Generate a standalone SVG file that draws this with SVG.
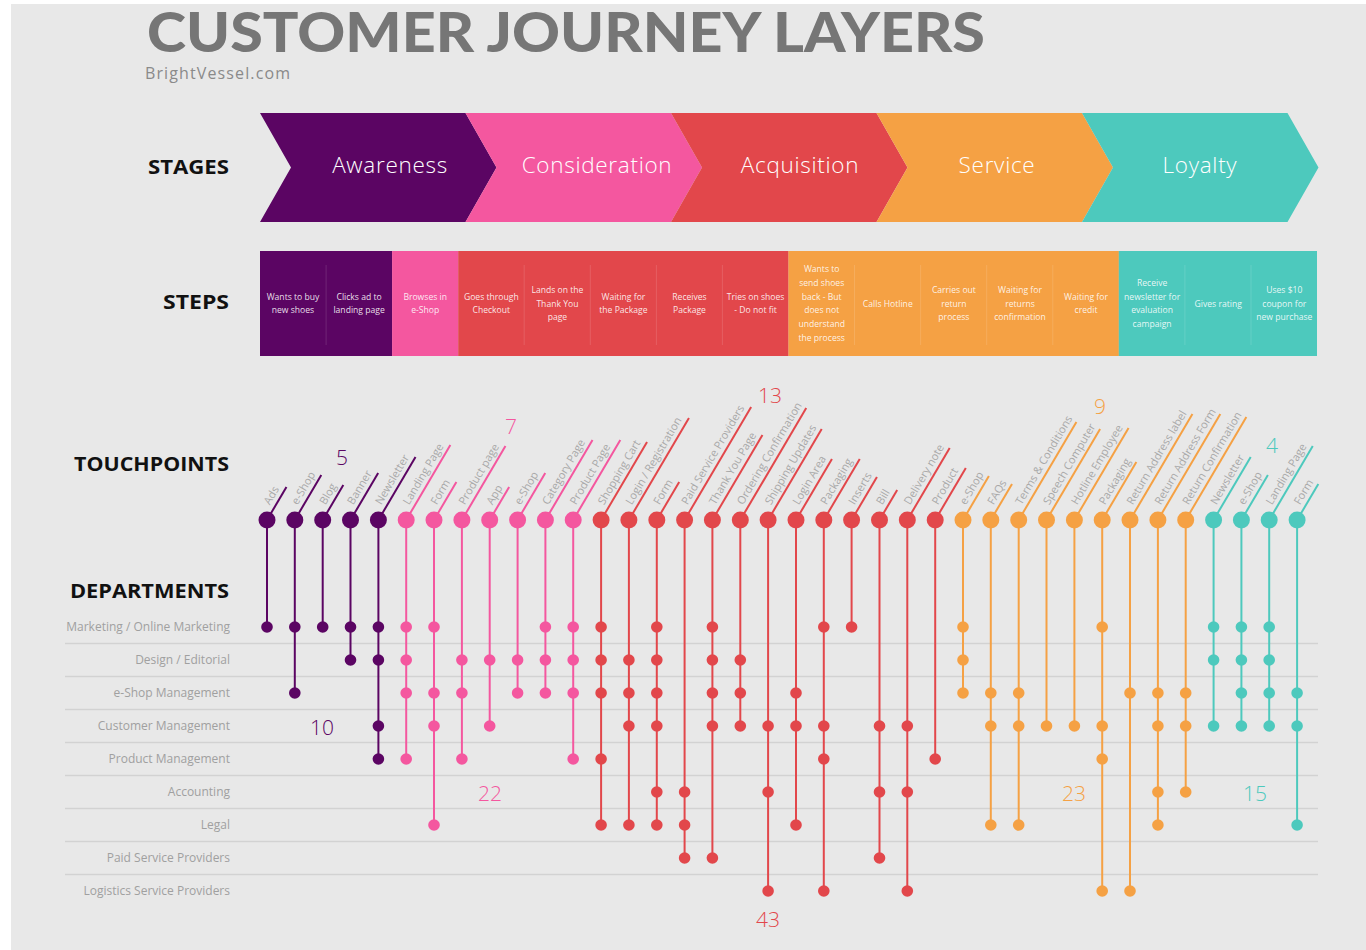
<svg xmlns="http://www.w3.org/2000/svg" width="1366" height="950" viewBox="0 0 1366 950">
<style>
.bg{fill:#e8e8e8}
.title{font-family:"Lato","Open Sans",sans-serif;font-weight:900;font-size:55px;fill:#767676}
.sub{font-family:"Open Sans",sans-serif;font-size:16px;fill:#8a8a8a}
.sec{font-family:"Open Sans",sans-serif;font-weight:700;font-size:20px;fill:#111}
.stg{font-family:"Open Sans",sans-serif;font-weight:300;font-size:22.5px;letter-spacing:0.7px;fill:#fff;text-anchor:middle}
.stp{font-family:"Open Sans",sans-serif;font-size:8.6px;fill:#fff;fill-opacity:.88;text-anchor:middle}
.sep{stroke:#fff;stroke-opacity:.13;stroke-width:1}
.dep{font-family:"Open Sans",sans-serif;font-size:12px;fill:#a0a0a0;text-anchor:end}
.row{stroke:#d2d2d2;stroke-width:1.5}
.tl{font-family:"Open Sans",sans-serif;font-size:11px;fill:#a8a8a8}
.num{font-family:"Open Sans",sans-serif;font-weight:300;font-size:21px;text-anchor:middle}
.fP{fill:#5b0563}.fK{fill:#f4579f}.fR{fill:#e2474b}.fO{fill:#f5a144}.fT{fill:#4dc9bd}
.sP{stroke:#5b0563}.sK{stroke:#f4579f}.sR{stroke:#e2474b}.sO{stroke:#f5a144}.sT{stroke:#4dc9bd}
line.v,line.d{stroke-width:2}
</style>
<rect x="0" y="0" width="1366" height="950" fill="#fff"/>
<rect class="bg" x="11" y="4" width="1355" height="946"/>

<g id="header">
<text class="title" x="147" y="52" textLength="838" lengthAdjust="spacingAndGlyphs">CUSTOMER JOURNEY LAYERS</text>
<text class="sub" x="145" y="79" textLength="145" lengthAdjust="spacing">BrightVessel.com</text>
</g>

<g id="section-labels">
<text class="sec" x="148" y="174" textLength="81" lengthAdjust="spacingAndGlyphs">STAGES</text>
<text class="sec" x="163" y="309" textLength="66" lengthAdjust="spacingAndGlyphs">STEPS</text>
<text class="sec" x="74" y="471" textLength="155" lengthAdjust="spacingAndGlyphs">TOUCHPOINTS</text>
<text class="sec" x="70" y="598" textLength="159" lengthAdjust="spacingAndGlyphs">DEPARTMENTS</text>
</g>

<g id="stages">
<g id="stage-awareness"><polygon class="fP" points="260,113 465.5,113 496.5,167.5 465.5,222 260,222 291,167.5"/><text class="stg" x="390" y="173">Awareness</text></g>
<g id="stage-consideration"><polygon class="fK" points="465.5,113 671,113 702,167.5 671,222 465.5,222 496.5,167.5"/><text class="stg" x="597" y="173">Consideration</text></g>
<g id="stage-acquisition"><polygon class="fR" points="671,113 876.5,113 907.5,167.5 876.5,222 671,222 702,167.5"/><text class="stg" x="800" y="173">Acquisition</text></g>
<g id="stage-service"><polygon class="fO" points="876.5,113 1082,113 1113,167.5 1082,222 876.5,222 907.5,167.5"/><text class="stg" x="997" y="173">Service</text></g>
<g id="stage-loyalty"><polygon class="fT" points="1082,113 1287.5,113 1318.5,167.5 1287.5,222 1082,222 1113,167.5"/><text class="stg" x="1200" y="173">Loyalty</text></g>
</g>

<g id="steps">
<rect class="fP" x="260" y="251" width="132.2" height="105"/>
<rect class="fK" x="392.1" y="251" width="66.2" height="105"/>
<rect class="fR" x="458.2" y="251" width="330.4" height="105"/>
<rect class="fO" x="788.5" y="251" width="330.4" height="105"/>
<rect class="fT" x="1118.8" y="251" width="198.2" height="105"/>
<g class="sep">
<line x1="326.1" y1="265" x2="326.1" y2="345"/>
<line x1="524.2" y1="265" x2="524.2" y2="345"/>
<line x1="590.3" y1="265" x2="590.3" y2="345"/>
<line x1="656.4" y1="265" x2="656.4" y2="345"/>
<line x1="722.4" y1="265" x2="722.4" y2="345"/>
<line x1="854.5" y1="265" x2="854.5" y2="345"/>
<line x1="920.6" y1="265" x2="920.6" y2="345"/>
<line x1="986.7" y1="265" x2="986.7" y2="345"/>
<line x1="1052.8" y1="265" x2="1052.8" y2="345"/>
<line x1="1184.9" y1="265" x2="1184.9" y2="345"/>
<line x1="1251" y1="265" x2="1251" y2="345"/>
</g>
<g id="step-1"><text class="stp" x="293" y="299.6">Wants to buy</text><text class="stp" x="293" y="313.4">new shoes</text></g>
<g id="step-2"><text class="stp" x="359.1" y="299.6">Clicks ad to</text><text class="stp" x="359.1" y="313.4">landing page</text></g>
<g id="step-3"><text class="stp" x="425.2" y="299.6">Browses in</text><text class="stp" x="425.2" y="313.4">e-Shop</text></g>
<g id="step-4"><text class="stp" x="491.3" y="299.6">Goes through</text><text class="stp" x="491.3" y="313.4">Checkout</text></g>
<g id="step-5"><text class="stp" x="557.4" y="292.7">Lands on the</text><text class="stp" x="557.4" y="306.5">Thank You</text><text class="stp" x="557.4" y="320.3">page</text></g>
<g id="step-6"><text class="stp" x="623.4" y="299.6">Waiting for</text><text class="stp" x="623.4" y="313.4">the Package</text></g>
<g id="step-7"><text class="stp" x="689.5" y="299.6">Receives</text><text class="stp" x="689.5" y="313.4">Package</text></g>
<g id="step-8"><text class="stp" x="755.6" y="299.6">Tries on shoes</text><text class="stp" x="755.6" y="313.4">- Do not fit</text></g>
<g id="step-9"><text class="stp" x="821.7" y="272">Wants to</text><text class="stp" x="821.7" y="285.8">send shoes</text><text class="stp" x="821.7" y="299.6">back - But</text><text class="stp" x="821.7" y="313.4">does not</text><text class="stp" x="821.7" y="327.2">understand</text><text class="stp" x="821.7" y="341">the process</text></g>
<g id="step-10"><text class="stp" x="887.8" y="306.5">Calls Hotline</text></g>
<g id="step-11"><text class="stp" x="953.9" y="292.7">Carries out</text><text class="stp" x="953.9" y="306.5">return</text><text class="stp" x="953.9" y="320.3">process</text></g>
<g id="step-12"><text class="stp" x="1020" y="292.7">Waiting for</text><text class="stp" x="1020" y="306.5">returns</text><text class="stp" x="1020" y="320.3">confirmation</text></g>
<g id="step-13"><text class="stp" x="1086" y="299.6">Waiting for</text><text class="stp" x="1086" y="313.4">credit</text></g>
<g id="step-14"><text class="stp" x="1152.1" y="285.8">Receive</text><text class="stp" x="1152.1" y="299.6">newsletter for</text><text class="stp" x="1152.1" y="313.4">evaluation</text><text class="stp" x="1152.1" y="327.2">campaign</text></g>
<g id="step-15"><text class="stp" x="1218.2" y="306.5">Gives rating</text></g>
<g id="step-16"><text class="stp" x="1284.3" y="292.7">Uses $10</text><text class="stp" x="1284.3" y="306.5">coupon for</text><text class="stp" x="1284.3" y="320.3">new purchase</text></g>
</g>

<g id="departments">
<g class="row">
<line x1="65" y1="643.5" x2="1318" y2="643.5"/>
<line x1="65" y1="676.5" x2="1318" y2="676.5"/>
<line x1="65" y1="709.5" x2="1318" y2="709.5"/>
<line x1="65" y1="742.5" x2="1318" y2="742.5"/>
<line x1="65" y1="775.5" x2="1318" y2="775.5"/>
<line x1="65" y1="808.5" x2="1318" y2="808.5"/>
<line x1="65" y1="841.5" x2="1318" y2="841.5"/>
<line x1="65" y1="874.5" x2="1318" y2="874.5"/>
</g>
<text class="dep" x="230" y="631">Marketing / Online Marketing</text>
<text class="dep" x="230" y="664">Design / Editorial</text>
<text class="dep" x="230" y="697">e-Shop Management</text>
<text class="dep" x="230" y="730">Customer Management</text>
<text class="dep" x="230" y="763">Product Management</text>
<text class="dep" x="230" y="796">Accounting</text>
<text class="dep" x="230" y="829">Legal</text>
<text class="dep" x="230" y="862">Paid Service Providers</text>
<text class="dep" x="230" y="895">Logistics Service Providers</text>
</g>

<g id="connectors">
<line class="v sP" x1="267" y1="520" x2="267" y2="627"/>
<line class="v sP" x1="294.8" y1="520" x2="294.8" y2="693"/>
<line class="v sP" x1="322.7" y1="520" x2="322.7" y2="627"/>
<line class="v sP" x1="350.5" y1="520" x2="350.5" y2="660"/>
<line class="v sP" x1="378.4" y1="520" x2="378.4" y2="759"/>
<line class="v sK" x1="406.2" y1="520" x2="406.2" y2="759"/>
<line class="v sK" x1="434" y1="520" x2="434" y2="825"/>
<line class="v sK" x1="461.9" y1="520" x2="461.9" y2="759"/>
<line class="v sK" x1="489.7" y1="520" x2="489.7" y2="726"/>
<line class="v sK" x1="517.6" y1="520" x2="517.6" y2="693"/>
<line class="v sK" x1="545.4" y1="520" x2="545.4" y2="693"/>
<line class="v sK" x1="573.2" y1="520" x2="573.2" y2="759"/>
<line class="v sR" x1="601.1" y1="520" x2="601.1" y2="825"/>
<line class="v sR" x1="628.9" y1="520" x2="628.9" y2="825"/>
<line class="v sR" x1="656.8" y1="520" x2="656.8" y2="825"/>
<line class="v sR" x1="684.6" y1="520" x2="684.6" y2="858"/>
<line class="v sR" x1="712.4" y1="520" x2="712.4" y2="858"/>
<line class="v sR" x1="740.3" y1="520" x2="740.3" y2="726"/>
<line class="v sR" x1="768.1" y1="520" x2="768.1" y2="891"/>
<line class="v sR" x1="796" y1="520" x2="796" y2="825"/>
<line class="v sR" x1="823.8" y1="520" x2="823.8" y2="891"/>
<line class="v sR" x1="851.6" y1="520" x2="851.6" y2="627"/>
<line class="v sR" x1="879.5" y1="520" x2="879.5" y2="858"/>
<line class="v sR" x1="907.3" y1="520" x2="907.3" y2="891"/>
<line class="v sR" x1="935.2" y1="520" x2="935.2" y2="759"/>
<line class="v sO" x1="963" y1="520" x2="963" y2="693"/>
<line class="v sO" x1="990.8" y1="520" x2="990.8" y2="825"/>
<line class="v sO" x1="1018.7" y1="520" x2="1018.7" y2="825"/>
<line class="v sO" x1="1046.5" y1="520" x2="1046.5" y2="726"/>
<line class="v sO" x1="1074.4" y1="520" x2="1074.4" y2="726"/>
<line class="v sO" x1="1102.2" y1="520" x2="1102.2" y2="891"/>
<line class="v sO" x1="1130" y1="520" x2="1130" y2="891"/>
<line class="v sO" x1="1157.9" y1="520" x2="1157.9" y2="825"/>
<line class="v sO" x1="1185.7" y1="520" x2="1185.7" y2="792"/>
<line class="v sT" x1="1213.6" y1="520" x2="1213.6" y2="726"/>
<line class="v sT" x1="1241.4" y1="520" x2="1241.4" y2="726"/>
<line class="v sT" x1="1269.2" y1="520" x2="1269.2" y2="726"/>
<line class="v sT" x1="1297.1" y1="520" x2="1297.1" y2="825"/>
</g>

<g id="department-dots">
<g class="fP">
<circle cx="267" cy="627" r="5.8"/>
<circle cx="294.8" cy="627" r="5.8"/><circle cx="294.8" cy="693" r="5.8"/>
<circle cx="322.7" cy="627" r="5.8"/>
<circle cx="350.5" cy="627" r="5.8"/><circle cx="350.5" cy="660" r="5.8"/>
<circle cx="378.4" cy="627" r="5.8"/><circle cx="378.4" cy="660" r="5.8"/><circle cx="378.4" cy="726" r="5.8"/><circle cx="378.4" cy="759" r="5.8"/>
</g>
<g class="fK">
<circle cx="406.2" cy="627" r="5.8"/><circle cx="406.2" cy="660" r="5.8"/><circle cx="406.2" cy="693" r="5.8"/><circle cx="406.2" cy="759" r="5.8"/>
<circle cx="434" cy="627" r="5.8"/><circle cx="434" cy="693" r="5.8"/><circle cx="434" cy="726" r="5.8"/><circle cx="434" cy="825" r="5.8"/>
<circle cx="461.9" cy="660" r="5.8"/><circle cx="461.9" cy="693" r="5.8"/><circle cx="461.9" cy="759" r="5.8"/>
<circle cx="489.7" cy="660" r="5.8"/><circle cx="489.7" cy="726" r="5.8"/>
<circle cx="517.6" cy="660" r="5.8"/><circle cx="517.6" cy="693" r="5.8"/>
<circle cx="545.4" cy="627" r="5.8"/><circle cx="545.4" cy="660" r="5.8"/><circle cx="545.4" cy="693" r="5.8"/>
<circle cx="573.2" cy="627" r="5.8"/><circle cx="573.2" cy="660" r="5.8"/><circle cx="573.2" cy="693" r="5.8"/><circle cx="573.2" cy="759" r="5.8"/>
</g>
<g class="fR">
<circle cx="601.1" cy="627" r="5.8"/><circle cx="601.1" cy="660" r="5.8"/><circle cx="601.1" cy="693" r="5.8"/><circle cx="601.1" cy="759" r="5.8"/><circle cx="601.1" cy="825" r="5.8"/>
<circle cx="628.9" cy="660" r="5.8"/><circle cx="628.9" cy="693" r="5.8"/><circle cx="628.9" cy="726" r="5.8"/><circle cx="628.9" cy="825" r="5.8"/>
<circle cx="656.8" cy="627" r="5.8"/><circle cx="656.8" cy="660" r="5.8"/><circle cx="656.8" cy="693" r="5.8"/><circle cx="656.8" cy="726" r="5.8"/><circle cx="656.8" cy="792" r="5.8"/><circle cx="656.8" cy="825" r="5.8"/>
<circle cx="684.6" cy="792" r="5.8"/><circle cx="684.6" cy="825" r="5.8"/><circle cx="684.6" cy="858" r="5.8"/>
<circle cx="712.4" cy="627" r="5.8"/><circle cx="712.4" cy="660" r="5.8"/><circle cx="712.4" cy="693" r="5.8"/><circle cx="712.4" cy="726" r="5.8"/><circle cx="712.4" cy="858" r="5.8"/>
<circle cx="740.3" cy="660" r="5.8"/><circle cx="740.3" cy="693" r="5.8"/><circle cx="740.3" cy="726" r="5.8"/>
<circle cx="768.1" cy="726" r="5.8"/><circle cx="768.1" cy="792" r="5.8"/><circle cx="768.1" cy="891" r="5.8"/>
<circle cx="796" cy="693" r="5.8"/><circle cx="796" cy="726" r="5.8"/><circle cx="796" cy="825" r="5.8"/>
<circle cx="823.8" cy="627" r="5.8"/><circle cx="823.8" cy="726" r="5.8"/><circle cx="823.8" cy="759" r="5.8"/><circle cx="823.8" cy="891" r="5.8"/>
<circle cx="851.6" cy="627" r="5.8"/>
<circle cx="879.5" cy="726" r="5.8"/><circle cx="879.5" cy="792" r="5.8"/><circle cx="879.5" cy="858" r="5.8"/>
<circle cx="907.3" cy="726" r="5.8"/><circle cx="907.3" cy="792" r="5.8"/><circle cx="907.3" cy="891" r="5.8"/>
<circle cx="935.2" cy="759" r="5.8"/>
</g>
<g class="fO">
<circle cx="963" cy="627" r="5.8"/><circle cx="963" cy="660" r="5.8"/><circle cx="963" cy="693" r="5.8"/>
<circle cx="990.8" cy="693" r="5.8"/><circle cx="990.8" cy="726" r="5.8"/><circle cx="990.8" cy="825" r="5.8"/>
<circle cx="1018.7" cy="693" r="5.8"/><circle cx="1018.7" cy="726" r="5.8"/><circle cx="1018.7" cy="825" r="5.8"/>
<circle cx="1046.5" cy="726" r="5.8"/>
<circle cx="1074.4" cy="726" r="5.8"/>
<circle cx="1102.2" cy="627" r="5.8"/><circle cx="1102.2" cy="726" r="5.8"/><circle cx="1102.2" cy="759" r="5.8"/><circle cx="1102.2" cy="891" r="5.8"/>
<circle cx="1130" cy="693" r="5.8"/><circle cx="1130" cy="891" r="5.8"/>
<circle cx="1157.9" cy="693" r="5.8"/><circle cx="1157.9" cy="726" r="5.8"/><circle cx="1157.9" cy="792" r="5.8"/><circle cx="1157.9" cy="825" r="5.8"/>
<circle cx="1185.7" cy="693" r="5.8"/><circle cx="1185.7" cy="726" r="5.8"/><circle cx="1185.7" cy="792" r="5.8"/>
</g>
<g class="fT">
<circle cx="1213.6" cy="627" r="5.8"/><circle cx="1213.6" cy="660" r="5.8"/><circle cx="1213.6" cy="726" r="5.8"/>
<circle cx="1241.4" cy="627" r="5.8"/><circle cx="1241.4" cy="660" r="5.8"/><circle cx="1241.4" cy="693" r="5.8"/><circle cx="1241.4" cy="726" r="5.8"/>
<circle cx="1269.2" cy="627" r="5.8"/><circle cx="1269.2" cy="660" r="5.8"/><circle cx="1269.2" cy="693" r="5.8"/><circle cx="1269.2" cy="726" r="5.8"/>
<circle cx="1297.1" cy="693" r="5.8"/><circle cx="1297.1" cy="726" r="5.8"/><circle cx="1297.1" cy="825" r="5.8"/>
</g>
</g>

<g id="touchpoints">
<g id="tp-ads" transform="translate(267,520)"><g transform="rotate(-59.5)"><line class="d sP" x1="0" y1="0" x2="38.3" y2="0"/><text class="tl" x="14" y="-5">Ads</text></g><circle class="fP" r="8.5"/></g>
<g id="tp-eshop-1" transform="translate(294.8,520)"><g transform="rotate(-59.5)"><line class="d sP" x1="0" y1="0" x2="52.2" y2="0"/><text class="tl" x="14" y="-5">e-Shop</text></g><circle class="fP" r="8.5"/></g>
<g id="tp-blog" transform="translate(322.7,520)"><g transform="rotate(-59.5)"><line class="d sP" x1="0" y1="0" x2="40.6" y2="0"/><text class="tl" x="14" y="-5">Blog</text></g><circle class="fP" r="8.5"/></g>
<g id="tp-banner" transform="translate(350.5,520)"><g transform="rotate(-59.5)"><line class="d sP" x1="0" y1="0" x2="54.5" y2="0"/><text class="tl" x="14" y="-5">Banner</text></g><circle class="fP" r="8.5"/></g>
<g id="tp-newsletter-1" transform="translate(378.4,520)"><g transform="rotate(-59.5)"><line class="d sP" x1="0" y1="0" x2="73.1" y2="0"/><text class="tl" x="14" y="-5">Newsletter</text></g><circle class="fP" r="8.5"/></g>

<g id="tp-landing-1" transform="translate(406.2,520)"><g transform="rotate(-59.5)"><line class="d sK" x1="0" y1="0" x2="87" y2="0"/><text class="tl" x="14" y="-5">Landing Page</text></g><circle class="fK" r="8.5"/></g>
<g id="tp-form-1" transform="translate(434,520)"><g transform="rotate(-59.5)"><line class="d sK" x1="0" y1="0" x2="44.1" y2="0"/><text class="tl" x="14" y="-5">Form</text></g><circle class="fK" r="8.5"/></g>
<g id="tp-product-page-1" transform="translate(461.9,520)"><g transform="rotate(-59.5)"><line class="d sK" x1="0" y1="0" x2="85.8" y2="0"/><text class="tl" x="14" y="-5">Product page</text></g><circle class="fK" r="8.5"/></g>
<g id="tp-app" transform="translate(489.7,520)"><g transform="rotate(-59.5)"><line class="d sK" x1="0" y1="0" x2="38.3" y2="0"/><text class="tl" x="14" y="-5">App</text></g><circle class="fK" r="8.5"/></g>
<g id="tp-eshop-2" transform="translate(517.6,520)"><g transform="rotate(-59.5)"><line class="d sK" x1="0" y1="0" x2="54.5" y2="0"/><text class="tl" x="14" y="-5">e-Shop</text></g><circle class="fK" r="8.5"/></g>
<g id="tp-category" transform="translate(545.4,520)"><g transform="rotate(-59.5)"><line class="d sK" x1="0" y1="0" x2="92.8" y2="0"/><text class="tl" x="14" y="-5">Category Page</text></g><circle class="fK" r="8.5"/></g>
<g id="tp-product-page-2" transform="translate(573.2,520)"><g transform="rotate(-59.5)"><line class="d sK" x1="0" y1="0" x2="92.8" y2="0"/><text class="tl" x="14" y="-5">Product Page</text></g><circle class="fK" r="8.5"/></g>

<g id="tp-cart" transform="translate(601.1,520)"><g transform="rotate(-59.5)"><line class="d sR" x1="0" y1="0" x2="90.5" y2="0"/><text class="tl" x="14" y="-5">Shopping Cart</text></g><circle class="fR" r="8.5"/></g>
<g id="tp-login-reg" transform="translate(628.9,520)"><g transform="rotate(-59.5)"><line class="d sR" x1="0" y1="0" x2="118.3" y2="0"/><text class="tl" x="14" y="-5">Login / Registration</text></g><circle class="fR" r="8.5"/></g>
<g id="tp-form-2" transform="translate(656.8,520)"><g transform="rotate(-59.5)"><line class="d sR" x1="0" y1="0" x2="44.1" y2="0"/><text class="tl" x="14" y="-5">Form</text></g><circle class="fR" r="8.5"/></g>
<g id="tp-paid" transform="translate(684.6,520)"><g transform="rotate(-59.5)"><line class="d sR" x1="0" y1="0" x2="131.1" y2="0"/><text class="tl" x="14" y="-5">Paid Service Providers</text></g><circle class="fR" r="8.5"/></g>
<g id="tp-thankyou" transform="translate(712.4,520)"><g transform="rotate(-59.5)"><line class="d sR" x1="0" y1="0" x2="98.6" y2="0"/><text class="tl" x="14" y="-5">Thank You Page</text></g><circle class="fR" r="8.5"/></g>
<g id="tp-ordering" transform="translate(740.3,520)"><g transform="rotate(-59.5)"><line class="d sR" x1="0" y1="0" x2="129.9" y2="0"/><text class="tl" x="14" y="-5">Ordering Confirmation</text></g><circle class="fR" r="8.5"/></g>
<g id="tp-shipping" transform="translate(768.1,520)"><g transform="rotate(-59.5)"><line class="d sR" x1="0" y1="0" x2="105.6" y2="0"/><text class="tl" x="14" y="-5">Shipping Updates</text></g><circle class="fR" r="8.5"/></g>
<g id="tp-login-area" transform="translate(796,520)"><g transform="rotate(-59.5)"><line class="d sR" x1="0" y1="0" x2="70.8" y2="0"/><text class="tl" x="14" y="-5">Login Area</text></g><circle class="fR" r="8.5"/></g>
<g id="tp-packaging-1" transform="translate(823.8,520)"><g transform="rotate(-59.5)"><line class="d sR" x1="0" y1="0" x2="70.8" y2="0"/><text class="tl" x="14" y="-5">Packaging</text></g><circle class="fR" r="8.5"/></g>
<g id="tp-inserts" transform="translate(851.6,520)"><g transform="rotate(-59.5)"><line class="d sR" x1="0" y1="0" x2="49.9" y2="0"/><text class="tl" x="14" y="-5">Inserts</text></g><circle class="fR" r="8.5"/></g>
<g id="tp-bill" transform="translate(879.5,520)"><g transform="rotate(-59.5)"><line class="d sR" x1="0" y1="0" x2="34.8" y2="0"/><text class="tl" x="14" y="-5">Bill</text></g><circle class="fR" r="8.5"/></g>
<g id="tp-delivery" transform="translate(907.3,520)"><g transform="rotate(-59.5)"><line class="d sR" x1="0" y1="0" x2="83.5" y2="0"/><text class="tl" x="14" y="-5">Delivery note</text></g><circle class="fR" r="8.5"/></g>
<g id="tp-product" transform="translate(935.2,520)"><g transform="rotate(-59.5)"><line class="d sR" x1="0" y1="0" x2="60.3" y2="0"/><text class="tl" x="14" y="-5">Product</text></g><circle class="fR" r="8.5"/></g>

<g id="tp-eshop-3" transform="translate(963,520)"><g transform="rotate(-59.5)"><line class="d sO" x1="0" y1="0" x2="51" y2="0"/><text class="tl" x="14" y="-5">e-Shop</text></g><circle class="fO" r="8.5"/></g>
<g id="tp-faqs" transform="translate(990.8,520)"><g transform="rotate(-59.5)"><line class="d sO" x1="0" y1="0" x2="41.8" y2="0"/><text class="tl" x="14" y="-5">FAQs</text></g><circle class="fO" r="8.5"/></g>
<g id="tp-terms" transform="translate(1018.7,520)"><g transform="rotate(-59.5)"><line class="d sO" x1="0" y1="0" x2="113.7" y2="0"/><text class="tl" x="14" y="-5">Terms &amp; Conditions</text></g><circle class="fO" r="8.5"/></g>
<g id="tp-speech" transform="translate(1046.5,520)"><g transform="rotate(-59.5)"><line class="d sO" x1="0" y1="0" x2="105.6" y2="0"/><text class="tl" x="14" y="-5">Speech Computer</text></g><circle class="fO" r="8.5"/></g>
<g id="tp-hotline" transform="translate(1074.4,520)"><g transform="rotate(-59.5)"><line class="d sO" x1="0" y1="0" x2="106.7" y2="0"/><text class="tl" x="14" y="-5">Hotline Employee</text></g><circle class="fO" r="8.5"/></g>
<g id="tp-packaging-2" transform="translate(1102.2,520)"><g transform="rotate(-59.5)"><line class="d sO" x1="0" y1="0" x2="67.3" y2="0"/><text class="tl" x="14" y="-5">Packaging</text></g><circle class="fO" r="8.5"/></g>
<g id="tp-ret-label" transform="translate(1130,520)"><g transform="rotate(-59.5)"><line class="d sO" x1="0" y1="0" x2="123" y2="0"/><text class="tl" x="14" y="-5">Return Address label</text></g><circle class="fO" r="8.5"/></g>
<g id="tp-ret-form" transform="translate(1157.9,520)"><g transform="rotate(-59.5)"><line class="d sO" x1="0" y1="0" x2="123" y2="0"/><text class="tl" x="14" y="-5">Return Address Form</text></g><circle class="fO" r="8.5"/></g>
<g id="tp-ret-conf" transform="translate(1185.7,520)"><g transform="rotate(-59.5)"><line class="d sO" x1="0" y1="0" x2="119.5" y2="0"/><text class="tl" x="14" y="-5">Return Confirmation</text></g><circle class="fO" r="8.5"/></g>

<g id="tp-newsletter-2" transform="translate(1213.6,520)"><g transform="rotate(-59.5)"><line class="d sT" x1="0" y1="0" x2="73.1" y2="0"/><text class="tl" x="14" y="-5">Newsletter</text></g><circle class="fT" r="8.5"/></g>
<g id="tp-eshop-4" transform="translate(1241.4,520)"><g transform="rotate(-59.5)"><line class="d sT" x1="0" y1="0" x2="52.2" y2="0"/><text class="tl" x="14" y="-5">e-Shop</text></g><circle class="fT" r="8.5"/></g>
<g id="tp-landing-2" transform="translate(1269.2,520)"><g transform="rotate(-59.5)"><line class="d sT" x1="0" y1="0" x2="85.8" y2="0"/><text class="tl" x="14" y="-5">Landing Page</text></g><circle class="fT" r="8.5"/></g>
<g id="tp-form-3" transform="translate(1297.1,520)"><g transform="rotate(-59.5)"><line class="d sT" x1="0" y1="0" x2="41.8" y2="0"/><text class="tl" x="14" y="-5">Form</text></g><circle class="fT" r="8.5"/></g>
</g>

<g id="counts">
<text class="num fP" x="342" y="465">5</text>
<text class="num fK" x="511" y="434">7</text>
<text class="num fR" x="770" y="403">13</text>
<text class="num fO" x="1100" y="414">9</text>
<text class="num fT" x="1272" y="453">4</text>
<text class="num fP" x="322" y="735">10</text>
<text class="num fK" x="490" y="801">22</text>
<text class="num fR" x="768" y="927">43</text>
<text class="num fO" x="1074" y="801">23</text>
<text class="num fT" x="1255" y="801">15</text>
</g>
</svg>
